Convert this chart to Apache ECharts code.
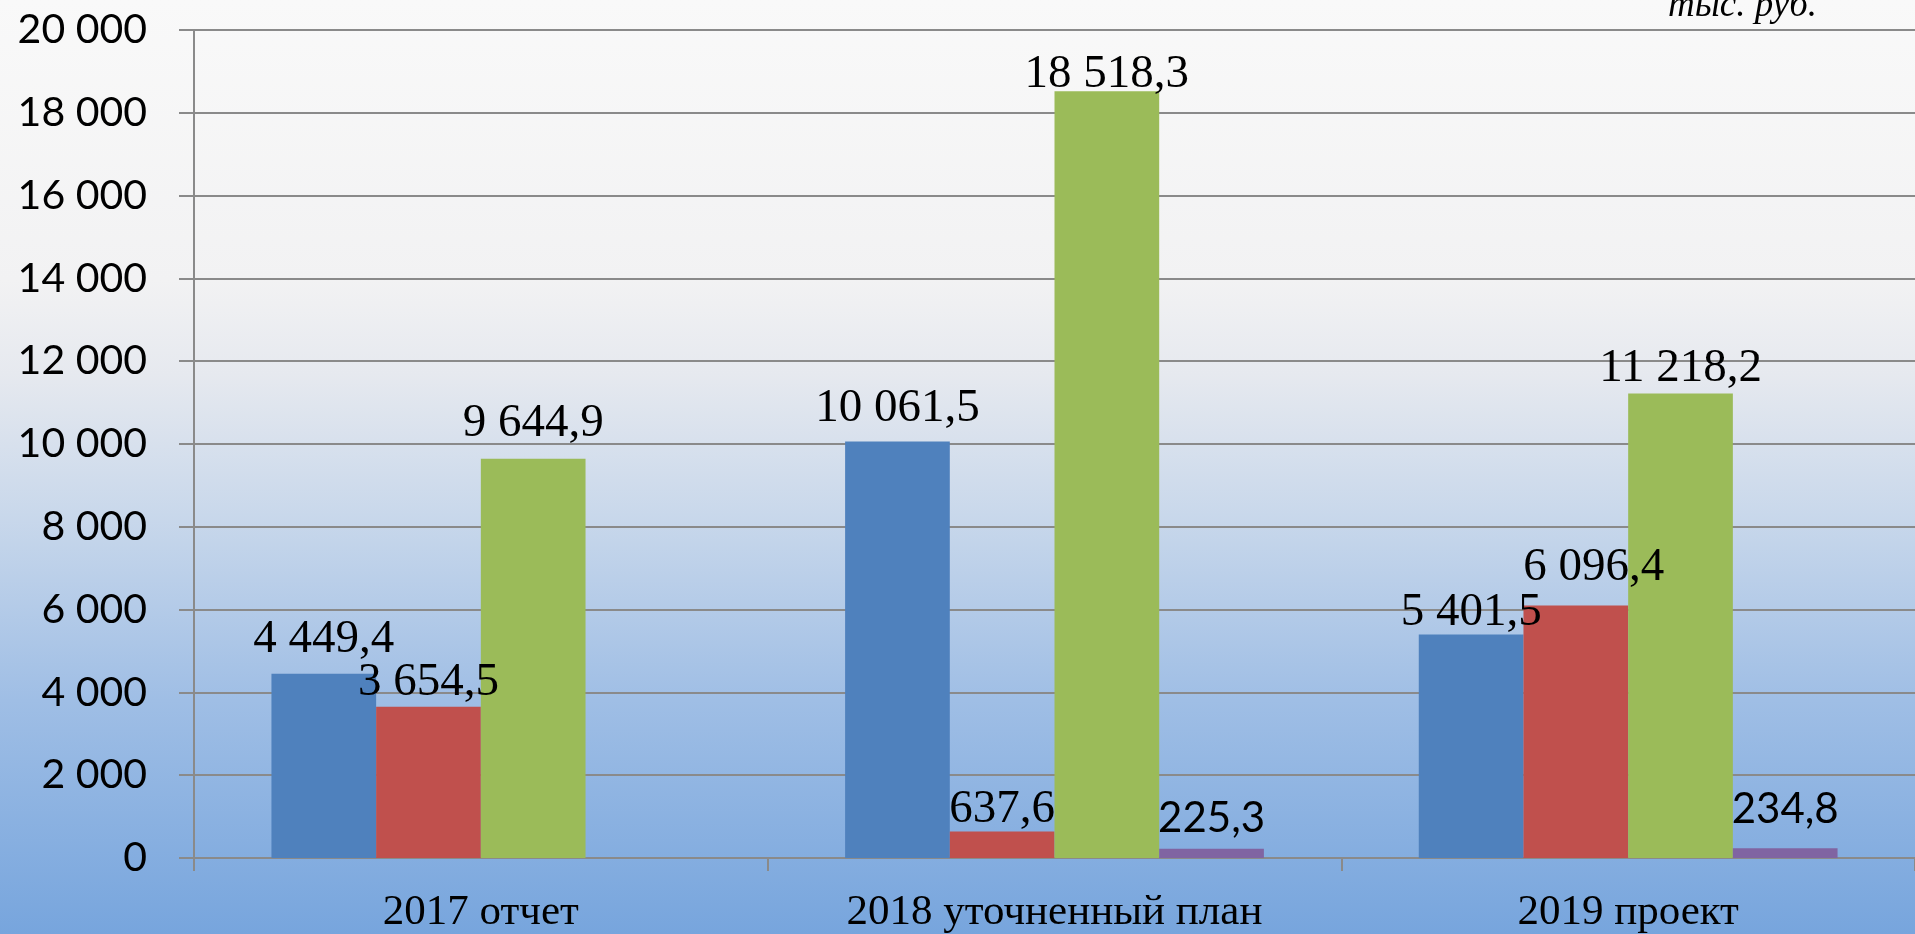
<!DOCTYPE html>
<html>
<head>
<meta charset="utf-8">
<script src="https://cdn.jsdelivr.net/npm/echarts@6/dist/echarts.min.js"></script>
<style>
html,body{margin:0;padding:0;width:1915px;height:934px;overflow:hidden;}
#chart{width:1915px;height:934px;}
</style>
</head>
<body>
<div id="chart"></div>
<script>
// ---- data ----
const categories = ['2017 отчет', '2018 уточненный план', '2019 проект'];
const seriesNames = ['Ряд 1', 'Ряд 2', 'Ряд 3', 'Ряд 4'];
const values1 = [4449.4, 10061.5, 5401.5];
const values2 = [3654.5, 637.6, 6096.4];
const values3 = [9644.9, 18518.3, 11218.2];
const values4 = [null, 225.3, 234.8];
const yTicks = [0, 2000, 4000, 6000, 8000, 10000, 12000, 14000, 16000, 18000, 20000];
const unitLabel = 'тыс. руб.';

// ---- style (label placement tweaks, px) ----
const colors = ['#4f81bd', '#c0504d', '#9bbb59', '#8064a2'];
const labelRise = [[22, 20, 9], [12, 9, 25], [23, 4, 12], [0, 18, 27]];
const labelShiftX = [[0, 0, 0], [0, 0, 18], [0, 0, 0], [0, 0, 0]];
const serifFont = '"Liberation Serif", "Times New Roman", serif';
const sansFont = 'Lato, "Open Sans", sans-serif';

function fmt(v) {
  const s = Number(v).toFixed(1).split('.');
  const intPart = s[0].replace(/\B(?=(\d{3})+(?!\d))/g, ' ');
  return intPart + ',' + s[1];
}
function fmtAxis(v) {
  return String(v).replace(/\B(?=(\d{3})+(?!\d))/g, ' ');
}

const allValues = [values1, values2, values3, values4];
const series = allValues.map((vals, si) => {
  const sans = si === 3;
  const base = sans ? 9 : 11;
  return {
    name: seriesNames[si],
    type: 'bar',
    barGap: '0%',
    barCategoryGap: '27%',
    itemStyle: { color: colors[si] },
    label: {
      show: true,
      position: 'top',
      distance: 0,
      color: '#000',
      fontFamily: sans ? sansFont : serifFont,
      fontSize: sans ? 42 : 47,
      formatter: p => fmt(p.value)
    },
    data: vals.map((v, i) => ({
      value: v,
      label: { offset: [labelShiftX[si][i], -(labelRise[si][i] - base)] }
    }))
  };
});

const chart = echarts.init(document.getElementById('chart'), null, { renderer: 'canvas' });
chart.setOption({
  animation: false,
  backgroundColor: {
    type: 'linear', x: 0, y: 0, x2: 0, y2: 1,
    colorStops: [
      { offset: 0, color: '#f9f9f9' },
      { offset: 0.3, color: '#f2f2f3' },
      { offset: 0.4, color: '#e6e9ef' },
      { offset: 0.55, color: '#c9d8eb' },
      { offset: 0.75, color: '#9fbee5' },
      { offset: 1, color: '#77a5dd' }
    ]
  },
  grid: { left: 194, right: -4, top: 30, bottom: 73, containLabel: false },
  graphic: [{
    type: 'text',
    right: 98,
    top: -12,
    style: {
      text: unitLabel,
      font: 'italic 37px "Liberation Serif", "Times New Roman", serif',
      fill: '#000'
    }
  }],
  xAxis: {
    type: 'category',
    data: categories,
    axisLine: { show: true, lineStyle: { color: '#8a8a8a', width: 2 } },
    axisTick: { show: true, length: 13, alignWithLabel: false, lineStyle: { color: '#8a8a8a', width: 2 } },
    axisLabel: {
      color: '#000',
      fontFamily: serifFont,
      fontSize: 43,
      margin: 33,
      interval: 0
    }
  },
  yAxis: {
    type: 'value',
    min: yTicks[0],
    max: yTicks[yTicks.length - 1],
    interval: yTicks[1] - yTicks[0],
    axisLine: { show: true, lineStyle: { color: '#8a8a8a', width: 2 } },
    axisTick: { show: true, length: 15, lineStyle: { color: '#8a8a8a', width: 2 } },
    splitLine: { show: true, lineStyle: { color: '#8a8a8a', width: 2 } },
    axisLabel: {
      color: '#000',
      fontFamily: sansFont,
      fontSize: 41,
      margin: 47,
      formatter: v => fmtAxis(v)
    }
  },
  series: series
});
</script>
</body>
</html>
